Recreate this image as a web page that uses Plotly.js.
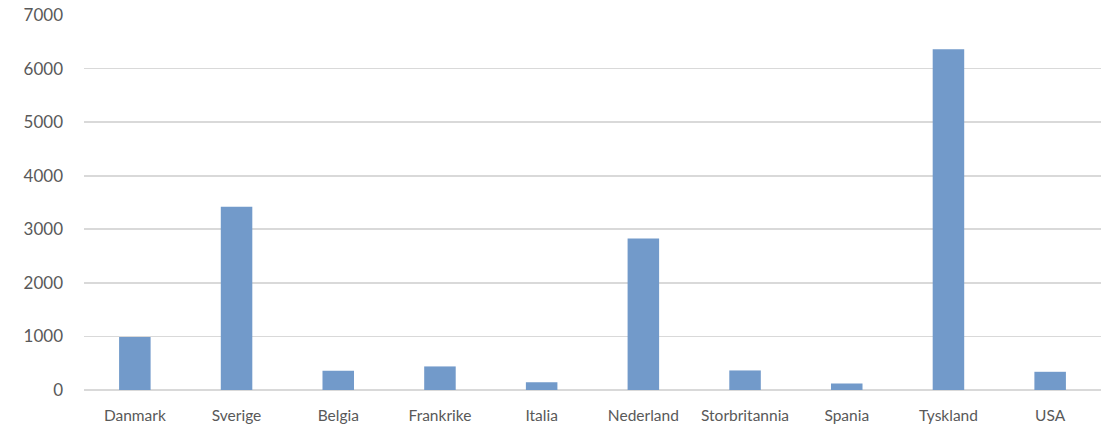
<!DOCTYPE html>
<html>
<head>
<meta charset="utf-8">
<script src="https://cdn.plot.ly/plotly-3.0.1.min.js"></script>
<style>
  html, body { margin: 0; padding: 0; background: #fff; }
  #chart { width: 1103px; height: 425px; }
</style>
</head>
<body>
<div id="chart"></div>
<script>
// Countries and their values
const countries = ['Danmark', 'Sverige', 'Belgia', 'Frankrike', 'Italia',
                   'Nederland', 'Storbritannia', 'Spania', 'Tyskland', 'USA'];
const values = [990, 3420, 360, 440, 145, 2830, 365, 120, 6360, 340];
const yTicks = [0, 1000, 2000, 3000, 4000, 5000, 6000, 7000];

const trace = {
  type: 'bar',
  x: countries,
  y: values,
  marker: { color: '#729aca', line: { width: 0 } },
  hoverinfo: 'x+y'
};

const layout = {
  width: 1103,
  height: 425,
  margin: { l: 84, r: 2, t: 15, b: 35 },
  paper_bgcolor: '#ffffff',
  plot_bgcolor: '#ffffff',
  bargap: 0.69,
  showlegend: false,
  font: { family: 'Lato, "Open Sans", sans-serif', color: '#595959' },
  xaxis: {
    type: 'category',
    showgrid: false,
    zeroline: false,
    showline: false,
    ticks: '',
    ticklabelstandoff: 14,
    tickfont: { size: 15.5, color: '#595959' },
    fixedrange: true
  },
  yaxis: {
    range: [0, 7000],
    tickvals: yTicks,
    ticktext: yTicks.map(String),
    showgrid: true,
    gridcolor: '#d9d9d9',
    gridwidth: 1.6,
    zeroline: true,
    zerolinecolor: '#d9d9d9',
    zerolinewidth: 1.6,
    showline: false,
    ticks: '',
    ticklabelstandoff: 20,
    tickfont: { size: 17, color: '#595959' },
    fixedrange: true
  }
};

Plotly.newPlot('chart', [trace], layout, { displayModeBar: false, staticPlot: true });
</script>
</body>
</html>
